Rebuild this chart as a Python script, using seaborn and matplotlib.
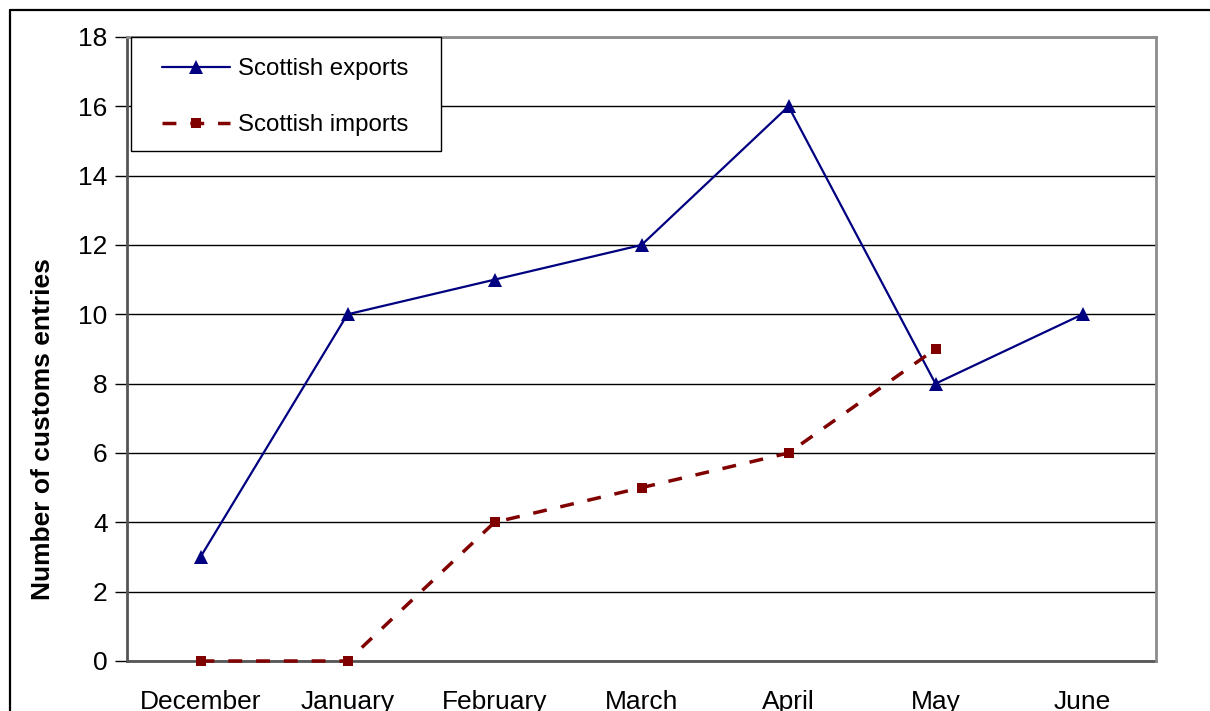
import numpy as np
import pandas as pd
import matplotlib
matplotlib.use("Agg")
import matplotlib.pyplot as plt
from matplotlib.lines import Line2D
from matplotlib.patches import Rectangle
import seaborn as sns

months = ["December", "January", "February", "March", "April", "May", "June"]
exports = [3, 10, 11, 12, 16, 8, 10]
imports = [0, 0, 4, 5, 6, 9, np.nan]
y_ticks = [0, 2, 4, 6, 8, 10, 12, 14, 16, 18]

sns.set_style("white")
plt.rcParams["font.family"] = ["Liberation Sans", "DejaVu Sans"]
plt.rcParams["text.color"] = "black"
plt.rcParams["xtick.color"] = "black"
plt.rcParams["ytick.color"] = "black"

df = pd.DataFrame({"pos": np.arange(len(months)), "month": months,
                   "exports": exports, "imports": imports})

W, H = 1210, 711
fig = plt.figure(figsize=(W / 100, H / 100), dpi=100)
ax = fig.add_axes([127 / W, 1 - 661 / H, (1156 - 127) / W, (661 - 37) / H])

exp_color = "#000080"
imp_color = "#800000"
imp_dash = (0, (4.0, 4.0))

sns.lineplot(data=df, x="pos", y="exports", ax=ax, color=exp_color,
             linewidth=1.6, marker="^", markersize=10, markeredgewidth=0,
             estimator=None, sort=False)
imp_df = df.dropna(subset=["imports"])
sns.lineplot(data=imp_df, x="pos", y="imports", ax=ax, color=imp_color,
             linewidth=2.5, marker="s", markersize=7.5, markeredgewidth=0,
             estimator=None, sort=False)
ax.lines[1].set_linestyle(imp_dash)
for ln in ax.lines:
    ln.set_clip_on(False)
    ln.set_zorder(3)

ax.set_xlim(-0.5, len(months) - 0.5)
ax.set_ylim(0, 18)
ax.set_yticks(y_ticks)
ax.set_yticklabels([str(v) for v in y_ticks], fontsize=19)
ax.set_xticks(np.arange(len(months)))
ax.set_xticklabels(months, fontsize=19)
ax.set_xticks(np.arange(len(months) + 1) - 0.5, minor=True)
ax.tick_params(axis="x", which="major", length=0, pad=21, labelcolor="black")
ax.tick_params(axis="x", which="minor", length=8, width=1, color="black", direction="out")
ax.tick_params(axis="y", which="major", length=9, width=1, color="black",
               direction="out", pad=5, left=True, labelcolor="black")

ax.yaxis.grid(True, color="black", linewidth=1)
ax.set_axisbelow(True)
ax.set_xlabel("")
ax.set_ylabel("")

for side in ["left", "bottom"]:
    ax.spines[side].set_color("#555555")
    ax.spines[side].set_linewidth(2)
    ax.spines[side].set_zorder(2)
for side in ["top", "right"]:
    ax.spines[side].set_color("#8c8c8c")
    ax.spines[side].set_linewidth(2)
    ax.spines[side].set_visible(True)

fig.text(43 / W, 1 - 429 / H, "Number of customs entries", rotation=90,
         fontsize=19, fontweight="bold", ha="center", va="center")

# legend box and entries
ax.add_patch(Rectangle((131 / W, 1 - 151 / H), (441 - 131) / W, (151 - 37) / H,
                       transform=fig.transFigure, facecolor="white",
                       edgecolor="black", linewidth=1, zorder=4, clip_on=False))
handles = [
    Line2D([], [], color=exp_color, linewidth=1.6, marker="^", markersize=10,
           markeredgewidth=0),
    Line2D([], [], color=imp_color, linewidth=2.5, marker="s", markersize=7.5,
           markeredgewidth=0, linestyle=imp_dash),
]
leg = ax.legend(handles, ["Scottish exports", "Scottish imports"],
                loc="upper left",
                bbox_to_anchor=(162 / W, 1 - 58 / H),
                bbox_transform=fig.transFigure,
                borderaxespad=0, borderpad=0, fontsize=17.3, frameon=False,
                handlelength=2.85, handletextpad=0.33, labelspacing=1.43)
leg.set_zorder(5)

# outer chart frame
fig.add_artist(Line2D([10 / W, 1], [1 - 10 / H, 1 - 10 / H], transform=fig.transFigure,
                      color="black", linewidth=1.6))
fig.add_artist(Line2D([10 / W, 10 / W], [0, 1 - 10 / H], transform=fig.transFigure,
                      color="black", linewidth=1.6))

fig.savefig("out.png", dpi=100)
